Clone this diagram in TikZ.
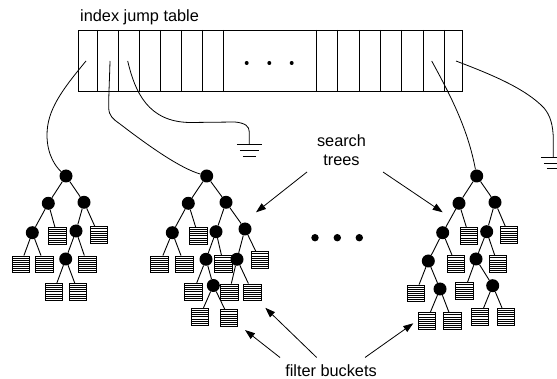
\documentclass[tikz,border=0pt]{standalone}
\usepackage{fontspec}
\setmainfont{Liberation Sans}
\usetikzlibrary{arrows.meta,backgrounds}
\begin{document}
\begin{tikzpicture}[x=1pt,y=-1pt,
  wire/.style={line width=0.8pt},
  edge/.style={line width=0.9pt},
  lbl/.style={inner sep=0pt, font=\fontsize{16.3}{19}\selectfont},
  inode/.style={circle, fill=black, minimum size=13pt, inner sep=0pt},
  bucket/.style={draw, fill=white, rectangle, minimum width=17.3pt, minimum height=16.7pt, inner sep=0pt, line width=0.8pt,
    path picture={\foreach \k in {1,...,7}{\draw[line width=0.55pt] ([yshift=\k*2.09pt]path picture bounding box.south west) -- ([yshift=\k*2.09pt]path picture bounding box.south east);}}},
  dotm/.style={circle, fill=black, minimum size=7.4pt, inner sep=0pt},
  dots/.style={circle, fill=black, minimum size=4pt, inner sep=0pt},
  arr/.style={line width=0.8pt, -{Triangle[length=10pt,width=7pt]}},
  gnd/.style={line width=0.9pt}
]
\useasboundingbox (0,0) rectangle (557,379);

% ---------- table ----------
\node[lbl, anchor=base west] (title) at (80,22) {index jump table};
\node[draw, line width=0.9pt, minimum width=384.4pt, minimum height=61pt, inner sep=0pt] (tbl) at (270.5,60.5) {};
\foreach \xx in {97.3,118.3,139.3,160.3,181.3,202.3,223.3,316,337.7,359,380.3,401.7,423,444}
  \draw[line width=0.8pt] (\xx,30) -- (\xx,91);
\node[dots] (td1) at (246.7,63) {};
\node[dots] (td2) at (269.3,63) {};
\node[dots] (td3) at (291.7,63) {};

\coordinate (c1) at (86,61);
\coordinate (c2) at (110,61);
\coordinate (c3) at (127.7,61);
\coordinate (c4) at (431.7,61);
\coordinate (c5) at (456,61);
\coordinate (g1) at (249.3,144.3);
\coordinate (g2) at (553.3,157);

% ---------- left tree ----------
\node[bucket] (ab1) at (57.3,235.7) {};
\node[bucket] (ab2) at (98.7,235) {};
\node[bucket] (ab3) at (20.7,264.3) {};
\node[bucket] (ab4) at (44.3,264.3) {};
\node[bucket] (ab5) at (87.3,264.3) {};
\node[bucket] (ab6) at (53.7,291.7) {};
\node[bucket] (ab7) at (78,291.7) {};
\node[inode] (a0) at (66,176) {};
\node[inode] (a1) at (48.3,203.3) {};
\node[inode] (a2) at (84,202.3) {};
\node[inode] (a3) at (32.3,232.7) {};
\node[inode] (a4) at (76,231) {};
\node[inode] (a5) at (65.7,259) {};

% ---------- middle tree ----------
\node[bucket] (bb1) at (198.3,235.7) {};
\node[bucket] (bb2) at (159.3,264.3) {};
\node[bucket] (bb3) at (184.3,264.3) {};
\node[bucket] (bb4) at (223.5,264) {};
\node[bucket] (bb5) at (260,260) {};
\node[bucket] (bb6) at (193.3,291.7) {};
\node[bucket] (bb7) at (229.3,292.3) {};
\node[bucket] (bb8) at (252.5,292.3) {};
\node[bucket] (bb9) at (199.6,316.7) {};
\node[bucket] (bb10) at (229,318) {};
\node[inode] (b0) at (206.7,176) {};
\node[inode] (b1) at (188.3,203.3) {};
\node[inode] (b2) at (226,202.3) {};
\node[inode] (b3) at (172.3,232.7) {};
\node[inode] (b4) at (216,231.7) {};
\node[inode] (b5) at (245,229) {};
\node[inode] (b6) at (206,259.3) {};
\node[inode] (b7) at (237,259.3) {};
\node[inode] (b8) at (213.3,285.5) {};

% ---------- right tree ----------
\node[bucket] (cb1) at (469,235.7) {};
\node[bucket] (cb2) at (509,235) {};
\node[bucket] (cb3) at (455.7,264) {};
\node[bucket] (cb4) at (497.7,264) {};
\node[bucket] (cb5) at (415.7,293.3) {};
\node[bucket] (cb6) at (464.3,291) {};
\node[bucket] (cb7) at (426.7,321) {};
\node[bucket] (cb8) at (452.3,321) {};
\node[bucket] (cb9) at (480,316.7) {};
\node[bucket] (cb10) at (505.7,316.7) {};
\node[inode] (c0) at (476.7,176) {};
\node[inode] (c1n) at (459,203.3) {};
\node[inode] (c2n) at (495,202.3) {};
\node[inode] (c3n) at (442.7,232.7) {};
\node[inode] (c4n) at (486.7,231.7) {};
\node[inode] (c5n) at (428.3,261) {};
\node[inode] (c6n) at (476,259) {};
\node[inode] (c7n) at (440,289) {};
\node[inode] (c8n) at (492.7,285.7) {};

% ---------- middle dots ----------
\node[dotm] (md1) at (315,237.7) {};
\node[dotm] (md2) at (337.3,237.7) {};
\node[dotm] (md3) at (359.3,237.7) {};

% ---------- tree edges ----------
\begin{scope}[on background layer]
\draw[edge] (a0)--(a1) (a0)--(a2) (a1)--(a3) (a1)--(ab1) (a2)--(a4) (a2)--(ab2)
  (a3)--(ab3) (a3)--(ab4) (a4)--(a5) (a4)--(ab5) (a5)--(ab6) (a5)--(ab7);
\draw[edge] (b0)--(b1) (b0)--(b2) (b1)--(b3) (b1)--(bb1) (b2)--(b4) (b2)--(b5)
  (b3)--(bb2) (b3)--(bb3) (b4)--(b6) (b4)--(bb4) (b5)--(b7) (b5)--(bb5)
  (b6)--(bb6) (b6)--(b8) (b7)--(bb7) (b7)--(bb8) (b8)--(bb9) (b8)--(bb10);
\draw[edge] (c0)--(c1n) (c0)--(c2n) (c1n)--(c3n) (c1n)--(cb1) (c2n)--(c4n) (c2n)--(cb2)
  (c3n)--(c5n) (c3n)--(cb3) (c4n)--(c6n) (c4n)--(cb4) (c5n)--(cb5) (c5n)--(c7n)
  (c6n)--(cb6) (c6n)--(c8n) (c7n)--(cb7) (c7n)--(cb8) (c8n)--(cb9) (c8n)--(cb10);
\end{scope}

% ---------- wires ----------
\draw[wire] (c1) .. controls (62,90) and (47,110) .. (47,135) .. controls (47,155) and (56,167) .. (a0);
\draw[wire] (c2) .. controls (109.5,80) and (108.5,100) .. (108.7,108) .. controls (109,116) and (113,119) .. (120,124) .. controls (150,147) and (180,168) .. (b0);
\draw[wire] (c3) .. controls (135,92) and (148,122) .. (190,122.5) -- (235,122) .. controls (245,123) and (249.3,126) .. (249.3,132) -- (g1);
\draw[wire] (c4) .. controls (452,98) and (468,130) .. (c0);
\draw[wire] (c5) .. controls (490,74) and (525,88) .. (544,108) .. controls (550,115) and (553.3,125) .. (553.3,140) -- (g2);

% ---------- grounds ----------
\draw[gnd] ([xshift=-12.5pt]g1) -- ([xshift=12.5pt]g1);
\draw[gnd] ([xshift=-9.5pt,yshift=-6.4pt]g1) -- ([xshift=9.5pt,yshift=-6.4pt]g1);
\draw[gnd] ([xshift=-6.5pt,yshift=-11.7pt]g1) -- ([xshift=6.5pt,yshift=-11.7pt]g1);
\draw[gnd] ([xshift=-12.5pt]g2) -- ([xshift=12.5pt]g2);
\draw[gnd] ([xshift=-9.5pt,yshift=-6.4pt]g2) -- ([xshift=9.5pt,yshift=-6.4pt]g2);
\draw[gnd] ([xshift=-6.5pt,yshift=-11.7pt]g2) -- ([xshift=6.5pt,yshift=-11.7pt]g2);

% ---------- labels and arrows ----------
\node[lbl, anchor=base] (st1) at (341.5,146.7) {search};
\node[lbl, anchor=base] (st2) at (341.5,165.4) {trees};
\coordinate (sa1) at (307,172);
\coordinate (sa2) at (383,172);
\coordinate (ta1) at (256,212.3);
\coordinate (ta2) at (442.7,212.3);
\draw[arr] (sa1) -- (ta1);
\draw[arr] (sa2) -- (ta2);

\node[lbl, anchor=base] (fb) at (331,376.8) {filter buckets};
\coordinate (fa1) at (280,357.5);
\coordinate (fa2) at (316.7,357.5);
\coordinate (fa3) at (365,357.5);
\coordinate (ft1) at (245,330);
\coordinate (ft2) at (265.3,307.8);
\coordinate (ft3) at (413.3,323.3);
\draw[arr] (fa1) -- (ft1);
\draw[arr] (fa2) -- (ft2);
\draw[arr] (fa3) -- (ft3);
\end{tikzpicture}
\end{document}
